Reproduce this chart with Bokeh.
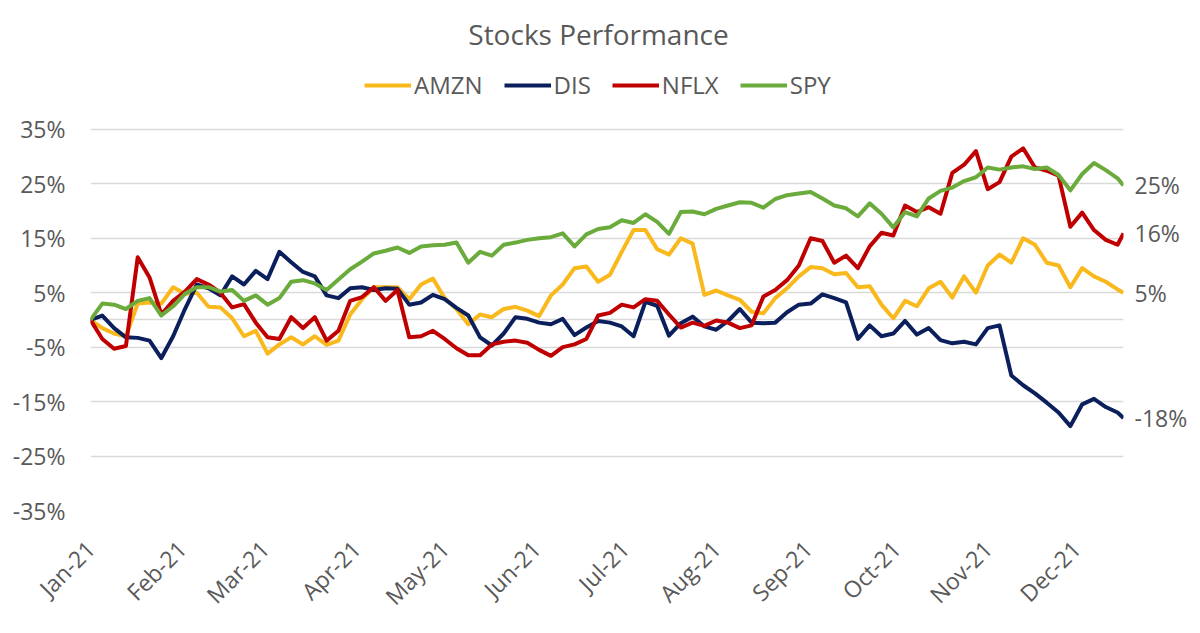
import math
from datetime import datetime, timedelta

from bokeh.plotting import figure
from bokeh.models import (ColumnDataSource, FixedTicker, DatetimeTickFormatter, LinearAxis,
                          PrintfTickFormatter, Legend, LegendItem, Label, Range1d)
from bokeh.embed import file_html
from bokeh.resources import INLINE

# ---------------- data ----------------
START = datetime(2021, 1, 1)
day_offsets = list(range(0, 349, 4)) + [350]

AMZN = [0, -1.5, -2.5, -3.0, 3.0, 3.2, 3.0, 6.0, 4.8, 5.0, 2.4, 2.3, 0.3, -3.0, -2.0, -6.2, -4.5, -3.2,
        -4.5, -3.0, -4.6, -3.8, 1.0, 3.8, 6.0, 6.0, 6.0, 3.8, 6.5, 7.6, 4.0, 2.0, -0.8, 1.0, 0.5, 2.0,
        2.4, 1.7, 0.7, 4.5, 6.5, 9.5, 9.8, 7.0, 8.3, 12.5, 16.5, 16.5, 13.0, 12.0, 15.0, 14.0, 4.6, 5.4,
        4.5, 3.7, 1.5, 1.2, 4.0, 5.8, 8.0, 9.7, 9.5, 8.4, 8.6, 6.0, 6.2, 2.8, 0.3, 3.5, 2.5,
        5.8, 7.0, 4.1, 8.0, 5.0, 10.0, 12.0, 10.5, 15.0, 13.8, 10.5, 10.0, 6.0, 9.5, 8.0, 7.0, 5.6,
        5.0]
DIS = [0, 0.8, -1.5, -3.2, -3.3, -3.8, -7.0, -3.0, 2.0, 6.5, 5.8, 4.5, 8.0, 6.5, 9.0, 7.5, 12.5, 10.6,
       8.8, 8.0, 4.5, 4.0, 5.8, 6.0, 5.5, 5.8, 5.7, 2.8, 3.2, 4.6, 3.8, 2.2, 0.8, -3.2, -4.7, -2.5,
       0.5, 0.2, -0.5, -0.8, 0.2, -2.8, -1.4, -0.2, -0.5, -1.2, -3.0, 3.3, 2.6, -2.9, -0.6, 0.6, -1.2, -1.8,
       -0.2, 2.0, -0.5, -0.6, -0.5, 1.4, 2.8, 3.0, 4.7, 4.0, 3.2, -3.5, -1.0, -3.0, -2.5, -0.2, -2.7,
       -1.5, -3.7, -4.3, -4.0, -4.5, -1.5, -1.0, -10.2, -12.0, -13.5, -15.2, -17.0, -19.5, -15.5, -14.5, -16.0, -17.0,
       -18.0]
NFLX = [0, -3.5, -5.3, -4.8, 11.5, 7.8, 1.0, 3.5, 5.2, 7.5, 6.5, 5.0, 2.3, 2.9, -0.5, -3.2, -3.5, 0.5,
        -1.5, 0.5, -3.8, -2.0, 3.5, 4.2, 6.0, 3.5, 5.5, -3.2, -3.0, -2.0, -3.5, -5.2, -6.5, -6.5, -4.5, -4.0,
        -3.8, -4.2, -5.5, -6.6, -5.0, -4.5, -3.5, 0.8, 1.3, 2.8, 2.3, 3.8, 3.5, 1.0, -1.4, -0.5, -1.1, -0.1,
        -0.5, -1.5, -1.0, 4.3, 5.5, 7.3, 10.0, 15.0, 14.5, 10.5, 11.8, 9.5, 13.5, 16.0, 15.5, 21.0, 19.8,
        20.7, 19.5, 27.0, 28.5, 31.0, 24.0, 25.3, 30.0, 31.5, 28.0, 27.4, 26.5, 17.1, 19.7, 16.5, 14.7, 13.8,
        15.9]
SPY = [0, 3.0, 2.8, 2.0, 3.5, 4.0, 0.8, 2.5, 4.8, 6.0, 6.0, 5.2, 5.5, 3.5, 4.5, 2.8, 4.0, 7.0,
       7.3, 6.7, 5.5, 7.4, 9.3, 10.7, 12.2, 12.7, 13.3, 12.3, 13.5, 13.7, 13.8, 14.2, 10.5, 12.5, 11.8, 13.8,
       14.2, 14.7, 15.0, 15.2, 15.9, 13.5, 15.7, 16.7, 17.0, 18.3, 17.8, 19.4, 18.0, 15.8, 19.8, 19.9, 19.4, 20.4,
       21.0, 21.6, 21.5, 20.6, 22.2, 22.9, 23.2, 23.5, 22.3, 21.0, 20.5, 19.0, 21.4, 19.5, 17.0, 19.8, 19.0,
       22.3, 23.7, 24.3, 25.5, 26.2, 28.0, 27.6, 28.0, 28.2, 27.7, 28.0, 26.6, 23.8, 26.8, 28.8, 27.5, 26.0,
       24.7]

series_names = ["AMZN", "DIS", "NFLX", "SPY"]
series_values = [AMZN, DIS, NFLX, SPY]
series_colors = ["#F9B81B", "#0B1F5C", "#C00000", "#6AAB3C"]

y_ticks = [-35, -25, -15, -5, 5, 15, 25, 35]
grid_ticks = [-35, -25, -15, -5, 0, 5, 15, 25, 35]
month_starts = [datetime(2021, m, 1) for m in range(1, 13)]
TITLE = "Stocks Performance"

TEXT = "#595959"
FONT = "Open Sans"

dates = [START + timedelta(days=d) for d in day_offsets]

# ---------------- layout (pixels) ----------------
FRAME_TOP = 10        # frame extends up to hold title and legend
FRAME_BOTTOM = 515    # the -35% line
PX_PER_UNIT = 5.5     # 10% = 55 px
Y_TOP = 35 + (130 - FRAME_TOP) / PX_PER_UNIT

p = figure(width=1190, height=625, x_axis_type="datetime",
           output_backend="svg", toolbar_location=None,
           x_range=Range1d(dates[0], dates[-1]), y_range=Range1d(-35, Y_TOP),
           min_border_left=90, min_border_right=63, min_border_top=FRAME_TOP,
           min_border_bottom=625 - FRAME_BOTTOM)
p.outline_line_color = None
p.background_fill_color = "white"
p.border_fill_color = "white"

# grid
p.xgrid.visible = False
p.ygrid.ticker = FixedTicker(ticks=grid_ticks)
p.ygrid.grid_line_color = "#D9D9D9"
p.ygrid.grid_line_width = 1.5

# y axis
p.yaxis.ticker = FixedTicker(ticks=y_ticks)
p.yaxis.formatter = PrintfTickFormatter(format="%d%%")
p.yaxis.axis_line_color = None
p.yaxis.major_tick_line_color = None
p.yaxis.minor_tick_line_color = None
p.yaxis.major_tick_in = 0
p.yaxis.major_tick_out = 0
p.yaxis.major_label_standoff = 25
p.yaxis.major_label_text_font = FONT
p.yaxis.major_label_text_font_size = "23px"
p.yaxis.major_label_text_color = TEXT

# x axis
epoch = datetime(1970, 1, 1)
p.xaxis.ticker = FixedTicker(ticks=[(d - epoch).total_seconds() * 1000 for d in month_starts])
fmt = "%b-%y"
p.xaxis.formatter = DatetimeTickFormatter(milliseconds=fmt, seconds=fmt, minsec=fmt, minutes=fmt,
                                          hourmin=fmt, hours=fmt, days=fmt, months=fmt, years=fmt)
p.xaxis.major_label_orientation = math.pi / 4
p.xaxis.axis_line_color = None
p.xaxis.major_tick_line_color = None
p.xaxis.minor_tick_line_color = None
p.xaxis.major_tick_in = 0
p.xaxis.major_tick_out = 0
p.xaxis.major_label_standoff = 34
p.xaxis.major_label_text_font = FONT
p.xaxis.major_label_text_font_size = "23px"
p.xaxis.major_label_text_color = TEXT

# lines
items = []
for name, vals, col in zip(series_names, series_values, series_colors):
    src = ColumnDataSource(dict(x=dates, y=vals))
    r = p.line("x", "y", source=src, line_color=col, line_width=4, line_join="round")
    items.append(LegendItem(label=name, renderers=[r]))

# end-value labels: a right axis whose ticks are the last values
end_axis = LinearAxis(ticker=FixedTicker(ticks=[v[-1] for v in series_values]),
                      formatter=PrintfTickFormatter(format="%.0f%%"))
end_axis.axis_line_color = None
end_axis.major_tick_line_color = None
end_axis.minor_tick_line_color = None
end_axis.major_tick_in = 0
end_axis.major_tick_out = 0
end_axis.major_label_standoff = 11
end_axis.major_label_text_font = FONT
end_axis.major_label_text_font_size = "23px"
end_axis.major_label_text_color = TEXT
p.add_layout(end_axis, "right")

# legend
legend = Legend(items=items, orientation="horizontal", location=(274, 409),
                glyph_width=47, glyph_height=20, label_standoff=3, spacing=21,
                padding=0, margin=0, border_line_color=None, background_fill_alpha=0,
                label_text_font=FONT, label_text_font_size="24px", label_text_color=TEXT)
p.add_layout(legend)

# title
p.add_layout(Label(x=508, y=FRAME_BOTTOM - 38, x_units="screen", y_units="screen", text=TITLE,
                   text_align="center", text_baseline="middle",
                   text_font=FONT, text_font_size="28px", text_color=TEXT))

open("out.html", "w").write(file_html(p, INLINE))
